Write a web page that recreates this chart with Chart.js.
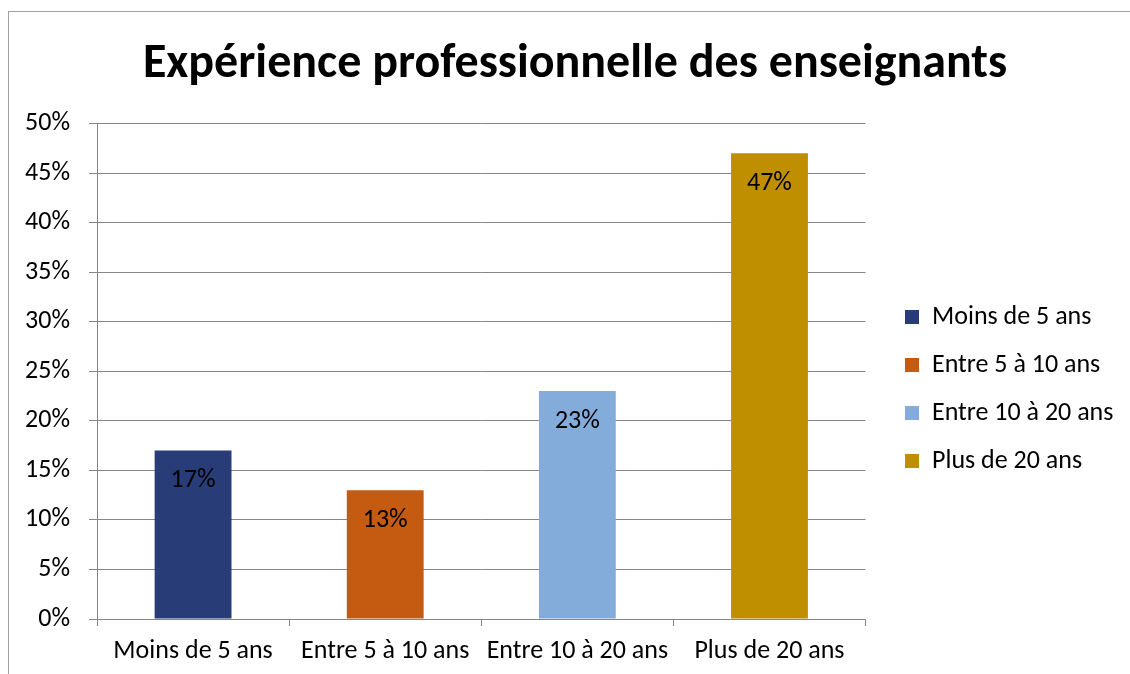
<!DOCTYPE html>
<html>
<head>
<meta charset="utf-8">
<script src="https://cdn.jsdelivr.net/npm/chart.js@4"></script>
<style>
  html, body { margin: 0; padding: 0; background: #fff; overflow: hidden; }
  #frame { position: absolute; left: 8px; top: 11px; width: 1200px; height: 700px; border: 1px solid #a0a0a0; }
  #wrap { position: absolute; left: 0; top: 0; width: 1130px; height: 674px; }
</style>
</head>
<body>
<div id="frame"></div>
<div id="wrap"><canvas id="chart" width="1130" height="674"></canvas></div>
<script>
// Chart data
const categories = ['Moins de 5 ans', 'Entre 5 à 10 ans', 'Entre 10 à 20 ans', 'Plus de 20 ans'];
const values = [0.17, 0.13, 0.23, 0.47];
const valueLabels = ['17%', '13%', '23%', '47%'];
const yTickLabels = ['0%', '5%', '10%', '15%', '20%', '25%', '30%', '35%', '40%', '45%', '50%'];
const barColors = ['#283c78', '#c55a11', '#83acdb', '#bf8f00'];

const FONT = "Carlito, Lato, 'Liberation Sans', sans-serif";
const gridColor = '#868686';

// Labels written inside each bar, near its top
const barLabels = {
  id: 'barLabels',
  afterDatasetsDraw(chart) {
    const ctx = chart.ctx;
    const meta = chart.getDatasetMeta(0);
    ctx.save();
    ctx.font = '26px ' + FONT;
    ctx.fillStyle = '#000';
    ctx.textAlign = 'center';
    ctx.textBaseline = 'middle';
    meta.data.forEach((bar, i) => {
      ctx.fillText(valueLabels[i], bar.x, bar.y + 30);
    });
    ctx.restore();
  }
};

// Nudge the title and legend to where the original sits
const nudge = {
  id: 'nudge',
  afterLayout(chart) {
    const t = chart.titleBlock;
    const shiftT = 575 - (t.left + t.right) / 2;
    t.left += shiftT;
    t.right += shiftT;
    const lg = chart.legend;
    const shiftX = 905 - 22 - lg.left;
    lg.left += shiftX;
    lg.right += shiftX;
    lg.top += 50;
    lg.bottom += 50;
  }
};

new Chart(document.getElementById('chart').getContext('2d'), {
  type: 'bar',
  data: {
    labels: categories,
    datasets: [{
      data: values,
      backgroundColor: barColors,
      borderWidth: 0,
      barPercentage: 0.4,
      categoryPercentage: 1
    }]
  },
  options: {
    responsive: false,
    animation: false,
    layout: { padding: { left: 20, right: 24, top: 12, bottom: 8 } },
    scales: {
      x: {
        afterFit(scale) { scale.height = 47; },
        grid: { drawOnChartArea: false, offset: true, color: gridColor, tickLength: 7 },
        border: { color: gridColor },
        ticks: { color: '#000', font: { family: FONT, size: 26 }, padding: 10, maxRotation: 0 }
      },
      y: {
        min: 0,
        max: 0.5,
        afterFit(scale) { scale.width = 77; },
        grid: { color: gridColor, tickLength: 8 },
        border: { color: gridColor },
        ticks: {
          stepSize: 0.05,
          color: '#000',
          font: { family: FONT, size: 26 },
          padding: 19,
          callback: (v, i) => yTickLabels[i]
        }
      }
    },
    plugins: {
      title: {
        display: true,
        text: 'Expérience professionnelle des enseignants',
        color: '#000',
        font: { family: FONT, size: 48, weight: 'bold' },
        padding: { top: 24, bottom: 30 }
      },
      legend: {
        position: 'right',
        onClick: null,
        labels: {
          color: '#000',
          font: { family: FONT, size: 26 },
          boxWidth: 14,
          boxHeight: 14,
          padding: 22,
          generateLabels: () => categories.map((c, i) => ({
            text: c,
            fillStyle: barColors[i],
            strokeStyle: barColors[i],
            lineWidth: 0,
            index: i
          }))
        }
      },
      tooltip: { enabled: false }
    }
  },
  plugins: [barLabels, nudge]
});
</script>
</body>
</html>
